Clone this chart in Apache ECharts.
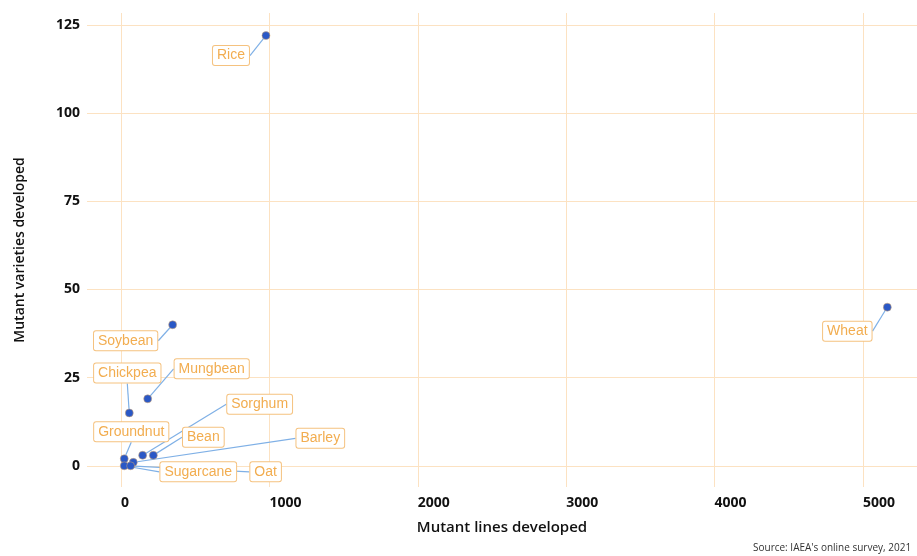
<!DOCTYPE html>
<html>
<head>
<meta charset="utf-8">
<script src="https://cdn.jsdelivr.net/npm/echarts@6/dist/echarts.min.js"></script>
<style>
html,body{margin:0;padding:0;background:#fff;}
#chart{width:917px;height:556px;}
</style>
</head>
<body>
<div id="chart"></div>
<script>
// ---- data ----
const crops = ['Rice','Wheat','Soybean','Chickpea','Mungbean','Sorghum','Bean','Barley','Groundnut','Sugarcane','Oat'];
const mutantLines = [977, 5164, 348, 56, 180, 146, 218, 83, 22, 22, 65];
const mutantVarieties = [122, 45, 40, 15, 19, 3, 3, 1, 2, 0, 0];
const xTicks = [0, 1000, 2000, 3000, 4000, 5000];
const yTicks = [0, 25, 50, 75, 100, 125];
const xTitle = 'Mutant lines developed';
const yTitle = 'Mutant varieties developed';
const sourceNote = "Source: IAEA's online survey, 2021";

// ---- label placement (pixel offsets of label box centre from its point) ----
const labelOffsets = {
  Rice: [-35, 20], Wheat: [-40, 24], Soybean: [-47, 16], Chickpea: [-2, -40],
  Mungbean: [64, -30], Sorghum: [117, -51], Bean: [50, -18], Barley: [187, -24],
  Groundnut: [7, -27], Sugarcane: [74, 6], Oat: [135, 6]
};

const seriesData = crops.map((c, i) => ({ name: c, value: [mutantLines[i], mutantVarieties[i]] }));

const gridColor = '#fce2c2';
const axisFont = '"Open Sans", "Noto Sans", sans-serif';

const chart = echarts.init(document.getElementById('chart'), null, { renderer: 'canvas' });
chart.setOption({
  animation: false,
  backgroundColor: '#ffffff',
  grid: { left: 87, right: 0, top: 13, bottom: 69, containLabel: false },
  xAxis: {
    type: 'value',
    min: -229, max: 5364,
    name: xTitle,
    nameLocation: 'middle',
    nameGap: 33,
    nameTextStyle: { fontFamily: axisFont, fontSize: 15, fontWeight: 600, color: '#111' },
    axisLine: { show: false },
    axisTick: { show: false, customValues: xTicks },
    axisLabel: { customValues: xTicks, align: 'left', margin: 9, fontFamily: axisFont, fontSize: 14, fontWeight: 700, color: '#111',
      formatter: function (v) { return String(v); } },
    splitLine: { show: true, lineStyle: { color: gridColor, width: 1 } }
  },
  yAxis: {
    type: 'value',
    min: -6, max: 128.4,
    name: yTitle,
    nameLocation: 'middle',
    nameGap: 60,
    nameTextStyle: { fontFamily: axisFont, fontSize: 14, fontWeight: 600, color: '#111' },
    axisLine: { show: false },
    axisTick: { show: false, customValues: yTicks },
    axisLabel: { customValues: yTicks, margin: 7, fontFamily: axisFont, fontSize: 14, fontWeight: 700, color: '#111',
      formatter: function (v) { return String(v); } },
    splitLine: { show: true, lineStyle: { color: gridColor, width: 1 } }
  },
  series: [{
    type: 'scatter',
    data: seriesData,
    symbolSize: 8,
    itemStyle: { color: '#2a58c6', opacity: 1, borderColor: '#d9a86c', borderWidth: 0.5 },
    label: {
      show: true,
      position: 'inside',
      formatter: '{b}',
      fontFamily: '"Liberation Sans", Arial, sans-serif',
      fontSize: 14,
      color: '#f2ad50',
      backgroundColor: '#ffffff',
      borderColor: '#f5c27f',
      borderWidth: 1,
      borderRadius: 2,
      padding: [3, 4, 2, 4]
    },
    labelLine: { show: true, lineStyle: { color: '#7fb0e6', width: 1.2 } },
    labelLayout: function (params) {
      const name = crops[params.dataIndex];
      const off = labelOffsets[name] || [0, 0];
      return { dx: off[0], dy: off[1] };
    }
  }],
  graphic: [{
    type: 'text',
    left: 753, top: 543,
    style: { text: sourceNote, fontFamily: '"Open Sans", sans-serif', fontSize: 10, fill: '#333' }
  }]
});
</script>
</body>
</html>
